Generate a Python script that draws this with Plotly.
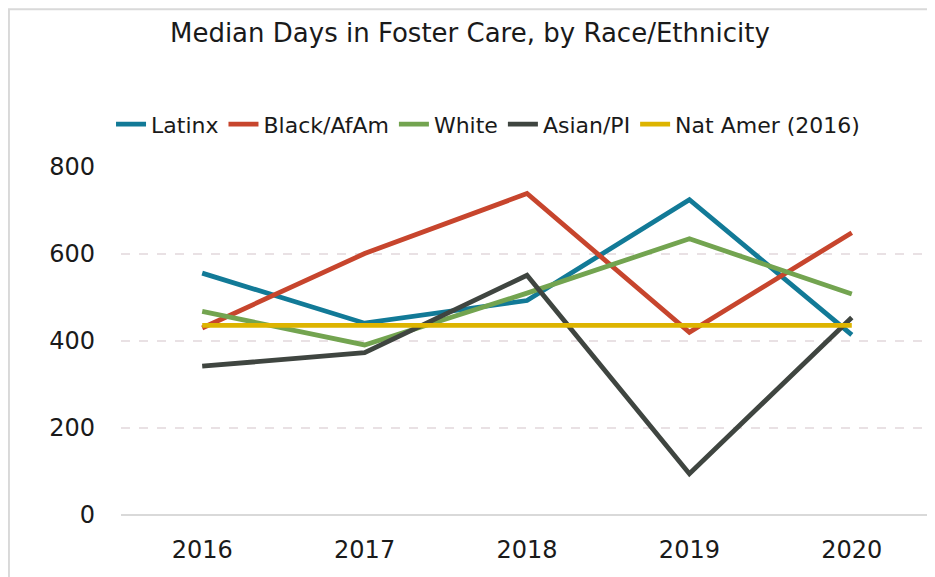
import plotly.graph_objects as go

years = ["2016", "2017", "2018", "2019", "2020"]
latinx = [556, 441, 493, 725, 414]
black_afam = [430, 601, 739, 420, 649]
white = [468, 391, 510, 635, 508]
asian_pi = [342, 373, 551, 95, 454]
nat_amer_2016 = [436, 436, 436, 436, 436]

series = [
    ("Latinx", latinx, "#127A97"),
    ("Black/AfAm", black_afam, "#C7452D"),
    ("White", white, "#73A450"),
    ("Asian/PI", asian_pi, "#3F4540"),
    ("Nat Amer (2016)", nat_amer_2016, "#DDB400"),
]

fig = go.Figure()
for name, vals, color in series:
    fig.add_trace(go.Scatter(
        x=years, y=vals, name=name, mode="lines",
        line=dict(color=color, width=4.8),
    ))

font_family = "DejaVu Sans, sans-serif"

# page body adds an 8px offset, margins allow for it
fig.update_layout(
    width=935, height=577,
    margin=dict(l=113, r=10, t=159, b=70),
    paper_bgcolor="white", plot_bgcolor="white",
    font=dict(family=font_family, color="#1a1a1a"),
    title=dict(text="Median Days in Foster Care, by Race/Ethnicity",
               x=0.494, xanchor="center", y=0.957, yanchor="middle",
               font=dict(size=26, color="#1a1a1a")),
    legend=dict(orientation="h", x=0.452, xanchor="center", y=1.1226, yanchor="middle",
                font=dict(size=22, color="#1a1a1a"), itemwidth=30,
                tracegroupgap=0, bgcolor="rgba(0,0,0,0)"),
    showlegend=True,
)

fig.update_xaxes(
    type="category", range=[-0.5, 4.5], showgrid=False,
    showline=False, zeroline=False, ticks="",
    tickfont=dict(size=24, color="#1a1a1a"), ticklabelstandoff=18,
)
fig.update_yaxes(
    range=[0, 800], tickvals=[0, 200, 400, 600, 800],
    showgrid=True, gridcolor="#E9E1E4", gridwidth=1.5, griddash="dash",
    zeroline=True, zerolinecolor="#D9D9D9", zerolinewidth=2,
    showline=False, ticks="",
    tickfont=dict(size=24, color="#1a1a1a"), ticklabelstandoff=25,
)

# outer chart border
fig.add_shape(type="rect", xref="paper", yref="paper",
              x0=-0.138, x1=1.2, y0=-0.5, y1=1.453,
              line=dict(color="#D9D9D9", width=2), fillcolor="rgba(0,0,0,0)",
              layer="below")

fig.write_html("out.html")
